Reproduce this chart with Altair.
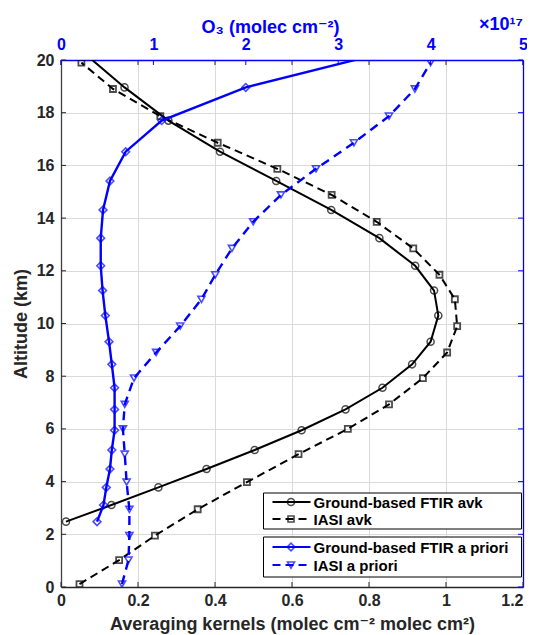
import altair as alt
import pandas as pd

# ---------------- data ----------------
# Ground-based FTIR: altitude levels (km), averaging-kernel values, a priori O3 (x1e17 molec cm-2)
ftir_alt = [2.48, 3.11, 3.78, 4.48, 5.20, 5.95, 6.74, 7.56, 8.45, 9.31, 10.30,
            11.25, 12.19, 13.24, 14.31, 15.41, 16.52, 17.70, 18.96, 20.30]
ftir_avk = [0.013, 0.131, 0.253, 0.378, 0.503, 0.625, 0.739, 0.835, 0.912, 0.960, 0.980,
            0.969, 0.920, 0.827, 0.702, 0.559, 0.413, 0.279, 0.165, 0.057]
ftir_apriori = [0.39, 0.46, 0.49, 0.53, 0.55, 0.58, 0.58, 0.58, 0.55, 0.52, 0.48,
                0.45, 0.43, 0.43, 0.455, 0.53, 0.70, 1.09, 2.00, 3.52]

# IASI: altitude levels (km), averaging-kernel values, a priori O3 (x1e17 molec cm-2)
iasi_alt = [0.11, 1.02, 1.95, 2.95, 3.98, 5.04, 6.00, 6.93, 7.93, 8.90, 9.90,
            10.92, 11.85, 12.85, 13.86, 14.88, 15.87, 16.86, 17.87, 18.90, 19.90]
iasi_avk = [0.048, 0.151, 0.244, 0.355, 0.483, 0.617, 0.745, 0.852, 0.940, 1.003, 1.029,
            1.023, 0.983, 0.915, 0.820, 0.703, 0.562, 0.407, 0.258, 0.135, 0.053]
iasi_apriori = [0.66, 0.73, 0.74, 0.74, 0.71, 0.69, 0.67, 0.69, 0.79, 1.03, 1.29,
                1.52, 1.67, 1.85, 2.08, 2.38, 2.76, 3.17, 3.55, 3.83, 4.00]

series_names = ["Ground-based FTIR avk", "IASI avk",
                "Ground-based FTIR a priori", "IASI a priori"]

y_ticks = [0, 2, 4, 6, 8, 10, 12, 14, 16, 18, 20]
avk_ticks = [0, 0.2, 0.4, 0.6, 0.8, 1.0, 1.2]
o3_ticks = [0, 1, 2, 3, 4, 5]

# ---------------- styling ----------------
W, H = 462, 527
FONT = "Liberation Sans, Arial, DejaVu Sans, sans-serif"
BLUE = "#0000ff"
DARK = "#262626"
GRID = "#dadada"

ftir_df = pd.DataFrame({"alt": ftir_alt, "avk": ftir_avk, "o3": ftir_apriori})
iasi_df = pd.DataFrame({"alt": iasi_alt, "avk": iasi_avk, "o3": iasi_apriori})

xb_scale = alt.Scale(domain=[0, 1.2], nice=False, zero=False)
xt_scale = alt.Scale(domain=[0, 5], nice=False, zero=False)
y_scale = alt.Scale(domain=[0, 20], nice=False, zero=False)

common = dict(labelFont=FONT, labelFontSize=16, labelFontWeight="bold",
              titleFont=FONT, titleFontSize=18, titleFontWeight="bold",
              ticks=False, labelFlush=False, labelOverlap=False, domainWidth=1.3)

ax_bottom = alt.Axis(orient="bottom", values=avk_ticks, format="~g",
                     title="Averaging kernels (molec cm\u207b\u00b2 molec cm\u00b2)",
                     grid=True, gridColor=GRID, gridWidth=1,
                     domainColor=DARK, labelColor=DARK, titleColor=DARK,
                     labelAlign={"condition": {"test": "datum.value > 1.19", "value": "right"},
                                 "value": "center"},
                     labelPadding=5, titlePadding=7, **common)
ax_left = alt.Axis(orient="left", values=y_ticks, format="~g", title="Altitude (km)",
                   grid=True, gridColor=GRID, gridWidth=1,
                   domainColor="#404040", labelColor=DARK, titleColor=DARK,
                   labelPadding=7, titlePadding=6, **common)
ax_top = alt.Axis(orient="top", values=o3_ticks, format="~g",
                  title="O\u2083 (molec cm\u207b\u00b2)", titleX=209,
                  grid=False, domainColor=BLUE, labelColor=BLUE, titleColor=BLUE,
                  labelPadding=8, titlePadding=0, **common)
ax_right = alt.Axis(orient="right", values=y_ticks, labels=False, title=None,
                    grid=False, domainColor=BLUE, **common)

yt_df = pd.DataFrame({"v": y_ticks})
xb_df = pd.DataFrame({"v": avk_ticks})
xt_df = pd.DataFrame({"v": o3_ticks})

# ---------------- averaging kernel group (bottom x axis) ----------------
left_ticks = alt.Chart(yt_df).mark_rule(color=DARK, strokeWidth=1).encode(
    y=alt.Y("v:Q", scale=y_scale, axis=ax_left), x=alt.value(0), x2=alt.value(5))
bottom_ticks = alt.Chart(xb_df).mark_rule(color=DARK, strokeWidth=1).encode(
    x=alt.X("v:Q", scale=xb_scale, axis=ax_bottom), y=alt.value(H - 5), y2=alt.value(H))
top_black_ticks = alt.Chart(xb_df).mark_rule(color=DARK, strokeWidth=1).encode(
    x=alt.X("v:Q", scale=xb_scale, axis=ax_bottom), y=alt.value(0), y2=alt.value(5))


def enc_avk():
    return dict(x=alt.X("avk:Q", scale=xb_scale, axis=ax_bottom),
                y=alt.Y("alt:Q", scale=y_scale, axis=ax_left),
                order=alt.Order("alt:Q"))


ftir_avk_line = alt.Chart(ftir_df).mark_line(color="black", strokeWidth=2, clip=True).encode(**enc_avk())
ftir_avk_pts = alt.Chart(ftir_df).mark_point(shape="circle", filled=False, color="black",
                                             size=50, strokeWidth=1.5, clip=True).encode(**enc_avk())
iasi_avk_line = alt.Chart(iasi_df).mark_line(color="black", strokeWidth=2, strokeDash=[8, 5],
                                             clip=True).encode(**enc_avk())
iasi_avk_pts = alt.Chart(iasi_df).mark_point(shape="square", filled=False, color="black",
                                             size=36, strokeWidth=1.8, clip=True).encode(**enc_avk())

avk_group = alt.layer(left_ticks, bottom_ticks, top_black_ticks,
                      ftir_avk_line, iasi_avk_line, ftir_avk_pts, iasi_avk_pts)

# ---------------- a priori group (top x axis) ----------------
top_ticks = alt.Chart(xt_df).mark_rule(color=BLUE, strokeWidth=1).encode(
    x=alt.X("v:Q", scale=xt_scale, axis=ax_top), y=alt.value(0), y2=alt.value(5))
right_ticks = alt.Chart(yt_df).mark_rule(color=BLUE, strokeWidth=1).encode(
    y=alt.Y("v:Q", scale=y_scale, axis=ax_right), x=alt.value(W - 5), x2=alt.value(W))


def enc_o3():
    return dict(x=alt.X("o3:Q", scale=xt_scale, axis=ax_top),
                y=alt.Y("alt:Q", scale=y_scale, axis=ax_right),
                order=alt.Order("alt:Q"))


ftir_ap_line = alt.Chart(ftir_df).mark_line(color=BLUE, strokeWidth=2.4, clip=True).encode(**enc_o3())
ftir_ap_pts = alt.Chart(ftir_df).mark_point(shape="diamond", filled=False, color=BLUE,
                                            size=60, strokeWidth=1.6, clip=True).encode(**enc_o3())
iasi_ap_line = alt.Chart(iasi_df).mark_line(color=BLUE, strokeWidth=2.4, strokeDash=[9, 6],
                                            clip=True).encode(**enc_o3())
iasi_ap_pts = alt.Chart(iasi_df).mark_point(shape="triangle-down", filled=False, color=BLUE,
                                            size=50, strokeWidth=1.6, clip=True).encode(**enc_o3())

# ---------------- legends (two boxes) ----------------
legend_layers = []
boxes = [(433, 469), (477, 517)]
for (y0, y1) in boxes:
    legend_layers.append(
        alt.Chart(pd.DataFrame({"b": [0]})).mark_rect(fill="white", stroke="black", strokeWidth=1).encode(
            x=alt.value(202.5), x2=alt.value(460.5), y=alt.value(y0), y2=alt.value(y1)))

rows_y = [442, 459, 487, 505]
styles = [
    dict(color="black", dash=[1, 0], shape="circle", size=50),
    dict(color="black", dash=[8, 5], shape="square", size=36),
    dict(color=BLUE, dash=[1, 0], shape="diamond", size=60),
    dict(color=BLUE, dash=[8, 5], shape="triangle-down", size=50),
]
for name, ry, st in zip(series_names, rows_y, styles):
    d = pd.DataFrame({"label": [name]})
    legend_layers.append(
        alt.Chart(d).mark_rule(color=st["color"], strokeWidth=2, strokeDash=st["dash"]).encode(
            x=alt.value(211.5), x2=alt.value(249.5), y=alt.value(ry)))
    legend_layers.append(
        alt.Chart(d).mark_point(shape=st["shape"], filled=False, color=st["color"],
                                size=st["size"], strokeWidth=1.6).encode(
            x=alt.value(230), y=alt.value(ry)))
    legend_layers.append(
        alt.Chart(d).mark_text(align="left", baseline="middle", font=FONT, fontSize=15,
                               fontWeight="bold", color="black").encode(
            x=alt.value(252.5), y=alt.value(ry + 1), text="label:N"))

exp_text = alt.Chart(pd.DataFrame({"t": ["\u00d710\u00b9\u2077"]})).mark_text(
    align="right", baseline="alphabetic", font=FONT, fontSize=18, fontWeight="bold",
    color=BLUE).encode(x=alt.value(W), y=alt.value(-30), text="t:N")

blue_group = alt.layer(top_ticks, right_ticks, ftir_ap_line, iasi_ap_line,
                       ftir_ap_pts, iasi_ap_pts, *legend_layers, exp_text)

chart = alt.layer(avk_group, blue_group).resolve_scale(
    x="independent", y="independent"
).properties(
    width=W, height=H,
    autosize=alt.AutoSizeParams(type="none"),
    padding={"left": 53, "top": 52, "right": 4, "bottom": 60},
    background="white",
).configure_view(stroke=None)

chart.save("out.html", embed_options={"renderer": "svg", "actions": False})
